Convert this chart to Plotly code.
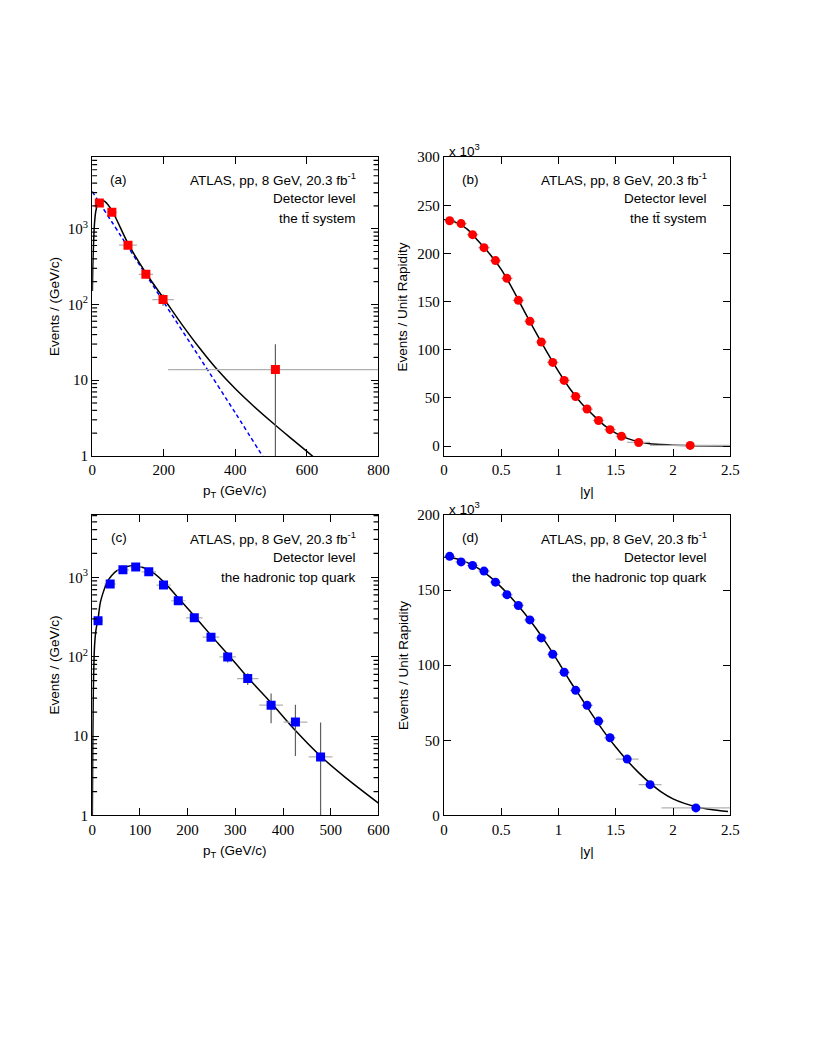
import math
import plotly.graph_objects as go

# ---- panel (a): ttbar system pT, log scale ----
a_pt = [20, 55, 100, 150, 198, 512]
a_pt_err = [10, 15, 25, 20, 30, 300]
a_val = [2180, 1650, 607, 250, 116, 13.8]
a_err_up = [50, 40, 30, 20, 20, 16]
a_err_dn = [50, 40, 30, 20, 20, 13.7]

a_fit_pt = [0.5, 1.5, 3, 6, 10, 15, 20, 27, 35, 55, 100, 150, 200, 250, 300, 350, 400, 450, 500, 550, 600, 630]
a_fit_val = [150, 300, 500, 1100, 1700, 2100, 2300, 2360, 2300, 1750, 640, 260, 120, 55, 26.6, 13.7, 7.7, 4.6, 2.85, 1.8, 1.15, 0.87]

a_exp_pt = [0, 100, 200, 300, 400, 490]
a_exp_val = [3100, 575, 107, 20, 3.7, 0.78]

# ---- panel (b): ttbar system |y| ----
b_y = [0.05, 0.15, 0.25, 0.35, 0.45, 0.55, 0.65, 0.75, 0.85, 0.95, 1.05, 1.15, 1.25, 1.35, 1.45, 1.55, 1.70, 2.15]
b_y_err = [0.05] * 16 + [0.1, 0.35]
b_val = [234, 231, 219.5, 206, 192.6, 174.2, 151.3, 129.6, 108.1, 86.9, 68.2, 51.5, 38.5, 26.6, 17.1, 10.2, 3.8, 0.7]
b_err = [1.5] * 18

b_fit_y = [0, 0.1, 0.2, 0.3, 0.4, 0.5, 0.6, 0.7, 0.8, 0.9, 1.0, 1.1, 1.2, 1.3, 1.4, 1.5, 1.6, 1.7, 1.8, 1.9, 2.0, 2.2, 2.5]
b_fit_val = [235, 232.5, 225.5, 213, 199.5, 183.5, 163, 140.5, 118.5, 97.5, 77.5, 59.5, 44.5, 32.5, 21.6, 13.5, 8, 4.5, 2.5, 1.6, 1.0, 0.4, 0.1]

# ---- panel (c): hadronic top pT, log scale ----
c_pt = [12.3, 37.7, 64.4, 91.2, 118.6, 149.5, 180.4, 214, 249, 284, 326, 375, 426, 478.7]
c_pt_err = [10, 12.5, 12.5, 12.5, 15, 15, 15, 17.5, 17.5, 17.5, 22.5, 25, 25, 25]
c_val = [284, 824, 1242, 1352, 1173, 800, 507, 309, 176, 99.5, 53, 24.5, 15.0, 5.46]
c_err_up = [10, 20, 25, 25, 25, 20, 15, 12, 12, 15, 9, 10, 9.8, 9.4]
c_err_dn = [10, 20, 25, 25, 25, 20, 15, 12, 12, 15, 9, 10, 9.4, 5.36]

c_fit_pt = [0.3, 1, 2, 3, 5, 8, 12, 17, 25, 31, 40, 51, 72, 92, 120, 151, 182, 216, 250, 285, 326, 374, 425, 479, 531, 600]
c_fit_val = [1, 5, 25, 60, 140, 220, 290, 480, 700, 865, 1040, 1207, 1365, 1390, 1230, 865, 537, 316, 183, 106, 54.6, 26.7, 11.9, 5.56, 3.0, 1.43]

# ---- panel (d): hadronic top |y| ----
d_y = [0.05, 0.15, 0.25, 0.35, 0.45, 0.55, 0.65, 0.75, 0.85, 0.95, 1.05, 1.15, 1.25, 1.35, 1.45, 1.60, 1.80, 2.20]
d_y_err = [0.05] * 15 + [0.1, 0.1, 0.3]
d_val = [172.5, 168.8, 166.4, 162.7, 155.3, 147, 139.8, 130.2, 118.2, 107.3, 95.3, 83.3, 73.3, 62.8, 51.7, 37.5, 20.5, 5.0]
d_err = [1.2] * 18

d_fit_y = [0, 0.1, 0.2, 0.3, 0.4, 0.5, 0.6, 0.7, 0.8, 0.9, 1.0, 1.1, 1.2, 1.3, 1.4, 1.5, 1.6, 1.7, 1.8, 1.9, 2.0, 2.1, 2.2, 2.3, 2.4, 2.48]
d_fit_val = [172, 171, 168.5, 164.5, 159, 152, 144, 135, 125, 114, 102, 89.5, 78, 66.5, 55.5, 45.5, 36.5, 28.5, 21.5, 15.5, 11, 8, 5.8, 4.3, 3.2, 2.6]

W, H = 817, 1058
SERIF = "Liberation Serif, Times New Roman, serif"
SANS = "Liberation Sans, Arial, sans-serif"
RED = "#ff0000"
BLUE = "#0000ff"
XERR_COL = "#b0b0b0"
YERR_COL = "#606060"


def px_x(v):
    return v / W


def px_y(v):
    return 1 - v / H


def data_trace(x, y, xe, ye_up, ye_dn, color, symbol, ax):
    return go.Scatter(
        x=x, y=y, mode="markers", xaxis="x" + ax, yaxis="y" + ax,
        marker=dict(color=color, symbol=symbol, size=9, line=dict(width=0)),
        error_x=dict(type="data", array=xe, color=XERR_COL, thickness=1.2, width=0),
        error_y=dict(type="data", array=ye_up, arrayminus=ye_dn, symmetric=False,
                     color=YERR_COL, thickness=1.2, width=0),
        showlegend=False,
    )


def fit_trace(x, y, ax, color="black", dash="solid"):
    return go.Scatter(
        x=x, y=y, mode="lines", xaxis="x" + ax, yaxis="y" + ax,
        line=dict(color=color, width=1.5, dash=dash, shape="spline", smoothing=0.8),
        showlegend=False,
    )


fig = go.Figure()
fig.add_trace(fit_trace(a_exp_pt, a_exp_val, "", color=BLUE, dash="4px,3px"))
fig.add_trace(fit_trace(a_fit_pt, a_fit_val, ""))
fig.add_trace(data_trace(a_pt, a_val, a_pt_err, a_err_up, a_err_dn, RED, "square", ""))

fig.add_trace(fit_trace(b_fit_y, b_fit_val, "2"))
fig.add_trace(data_trace(b_y, b_val, b_y_err, b_err, b_err, RED, "circle", "2"))

fig.add_trace(fit_trace(c_fit_pt, c_fit_val, "3"))
fig.add_trace(data_trace(c_pt, c_val, c_pt_err, c_err_up, c_err_dn, BLUE, "square", "3"))

fig.add_trace(fit_trace(d_fit_y, d_fit_val, "4"))
fig.add_trace(data_trace(d_y, d_val, d_y_err, d_err, d_err, BLUE, "circle", "4"))

left = [px_x(81.7), px_x(373.3)]
right = [px_x(440), px_x(731.7)]
top = [px_y(446.7), px_y(143.3)]
bottom = [px_y(811.7), px_y(506.7)]

axis_common = dict(
    showline=True, linecolor="black", linewidth=1.3, mirror="ticks",
    ticks="inside", ticklen=7, tickwidth=1.2, tickcolor="black",
    showgrid=False, zeroline=False,
    tickfont=dict(family=SERIF, size=15, color="black"),
)
log_ticks = dict(
    type="log", tickmode="array", tickvals=[1, 10, 100, 1000],
    ticktext=["1", "10", "10<sup>2</sup>", "10<sup>3</sup>"],
)

fig.update_layout(
    width=W, height=H,
    margin=dict(l=0, r=0, t=0, b=0),
    paper_bgcolor="white", plot_bgcolor="white",
    xaxis=dict(domain=left, anchor="y", range=[0, 800], tickvals=[0, 200, 400, 600, 800], **axis_common),
    yaxis=dict(domain=top, anchor="x", range=[0, 3.945], **log_ticks, **axis_common),
    xaxis2=dict(domain=right, anchor="y2", range=[0, 2.5], tickvals=[0, 0.5, 1, 1.5, 2, 2.5], **axis_common),
    yaxis2=dict(domain=top, anchor="x2", range=[-10.2, 300], tickvals=[0, 50, 100, 150, 200, 250, 300], **axis_common),
    xaxis3=dict(domain=left, anchor="y3", range=[0, 600], tickvals=[0, 100, 200, 300, 400, 500, 600], **axis_common),
    yaxis3=dict(domain=bottom, anchor="x3", range=[0, 3.785], **log_ticks, **axis_common),
    xaxis4=dict(domain=right, anchor="y4", range=[0, 2.5], tickvals=[0, 0.5, 1, 1.5, 2, 2.5], **axis_common),
    yaxis4=dict(domain=bottom, anchor="x4", range=[0, 200], tickvals=[0, 50, 100, 150, 200], **axis_common),
)

# minor ticks 2..9 in each decade on the log axes, both sides
# (shapes on log axes take data values in plotly 6)
minor_vals = [m * 10 ** k for k in range(4) for m in range(2, 10)]
tick_frac = 5 / 291.6
for xr, yr, top_log in [("x domain", "y", 3.945), ("x3 domain", "y3", 3.785)]:
    for v in minor_vals:
        if math.log10(v) > top_log:
            continue
        for x0, x1 in [(0, tick_frac), (1 - tick_frac, 1)]:
            fig.add_shape(type="line", xref=xr, yref=yr, x0=x0, x1=x1, y0=v, y1=v,
                          line=dict(color="black", width=1.2))

annotations = []


def label(text, x, y, xanchor="center", size=13.5, angle=0):
    annotations.append(dict(
        text=text, x=px_x(x), y=px_y(y), xref="paper", yref="paper",
        xanchor=xanchor, yanchor="middle", showarrow=False, textangle=angle,
        font=dict(family=SANS, size=size, color="black"),
    ))


panels = [
    ("(a)", 108.3, 352, 165.7, "the t\u0074\u0304 system"),
    ("(b)", 467.3, 710, 165.7, "the t\u0074\u0304 system"),
    ("(c)", 109.0, 352, 530.0, "the hadronic top quark"),
    ("(d)", 467.3, 710, 530.0, "the hadronic top quark"),
]
for tag, xt, xr, y0, third in panels:
    label(tag, xt, y0)
    label("ATLAS, pp, 8 GeV, 20.3 fb<sup>-1</sup>", xr, y0, xanchor="right")
    label("Detector level", xr, y0 + 20, xanchor="right")
    label(third, xr, y0 + 40, xanchor="right")

label("p<sub>T</sub> (GeV/c)", 227.5, 483.3)
label("|y|", 585.8, 483.3)
label("p<sub>T</sub> (GeV/c)", 227.5, 848.3)
label("|y|", 585.8, 848.3)
label("Events / (GeV/c)", 43.3, 295, angle=-90)
label("Events / Unit Rapidity", 398.3, 295, angle=-90)
label("Events / (GeV/c)", 43.3, 659, angle=-90)
label("Events / Unit Rapidity", 398.3, 659, angle=-90)
label("x 10<sup>3</sup>", 443, 136, xanchor="left")
label("x 10<sup>3</sup>", 443, 499.5, xanchor="left")

fig.update_layout(annotations=annotations)

fig.write_html("out.html")
